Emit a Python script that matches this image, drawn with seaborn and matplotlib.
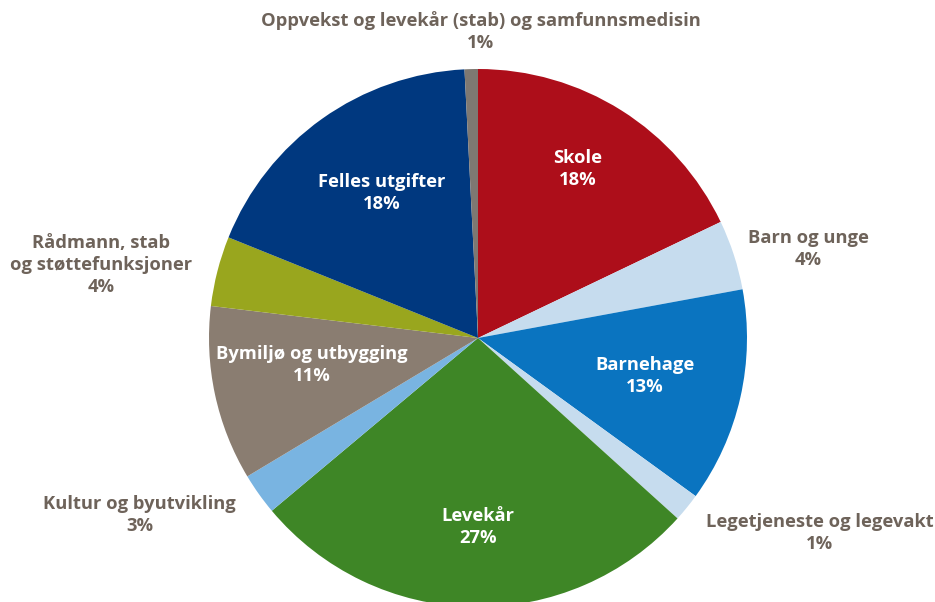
import matplotlib
matplotlib.use("Agg")
import matplotlib.pyplot as plt
import seaborn as sns

# Data (clockwise from the top)
categories = [
    "Skole", "Barn og unge", "Barnehage", "Legetjeneste og legevakt",
    "Levekår", "Kultur og byutvikling", "Bymiljø og utbygging",
    "Rådmann, stab\nog støttefunksjoner", "Felles utgifter",
    "Oppvekst og levekår (stab) og samfunnsmedisin",
]
shares = [17.9, 4.2, 12.9, 1.7, 27.2, 2.5, 10.5, 4.2, 18.1, 0.8]
pct_labels = ["18%", "4%", "13%", "1%", "27%", "3%", "11%", "4%", "18%", "1%"]
inside = [True, False, True, False, True, False, True, False, True, False]

colors = ["#AD0E1A", "#C6DCEE", "#0A74C0", "#C6DCEE", "#3E8626",
          "#79B4E1", "#8A7D71", "#99A61E", "#00387F", "#7E7872"]

# label anchors in pie-radius units
label_pos = [(0.372, 0.628), (1.227, 0.331), (0.621, -0.141), (1.271, -0.725),
             (0.0, -0.703), (-1.257, -0.658), (-0.617, -0.100), (-1.401, 0.271),
             (-0.357, 0.539), (0.011, 1.141)]

sns.set_theme(style="white")
plt.rcParams["font.family"] = ["Open Sans", "DejaVu Sans"]

fig = plt.figure(figsize=(9.35, 6.02), dpi=100)
ax = fig.add_axes([0, 0, 1, 1])

ax.pie(shares, colors=colors, startangle=90, counterclock=False,
       radius=1, wedgeprops=dict(linewidth=0))

for name, pct, pos, inn in zip(categories, pct_labels, label_pos, inside):
    ax.text(pos[0], pos[1], f"{name}\n{pct}", ha="center", va="center",
            fontsize=13.2, fontweight="bold", linespacing=1.28,
            color="white" if inn else "#6E635A")

# pie centre at (478, 338) px, radius 269 px
r = 269
ax.set_aspect("auto")
ax.set_xlim(-478 / r, (935 - 478) / r)
ax.set_ylim(-(602 - 338) / r, 338 / r)
ax.axis("off")

fig.savefig("out.png", dpi=100)
